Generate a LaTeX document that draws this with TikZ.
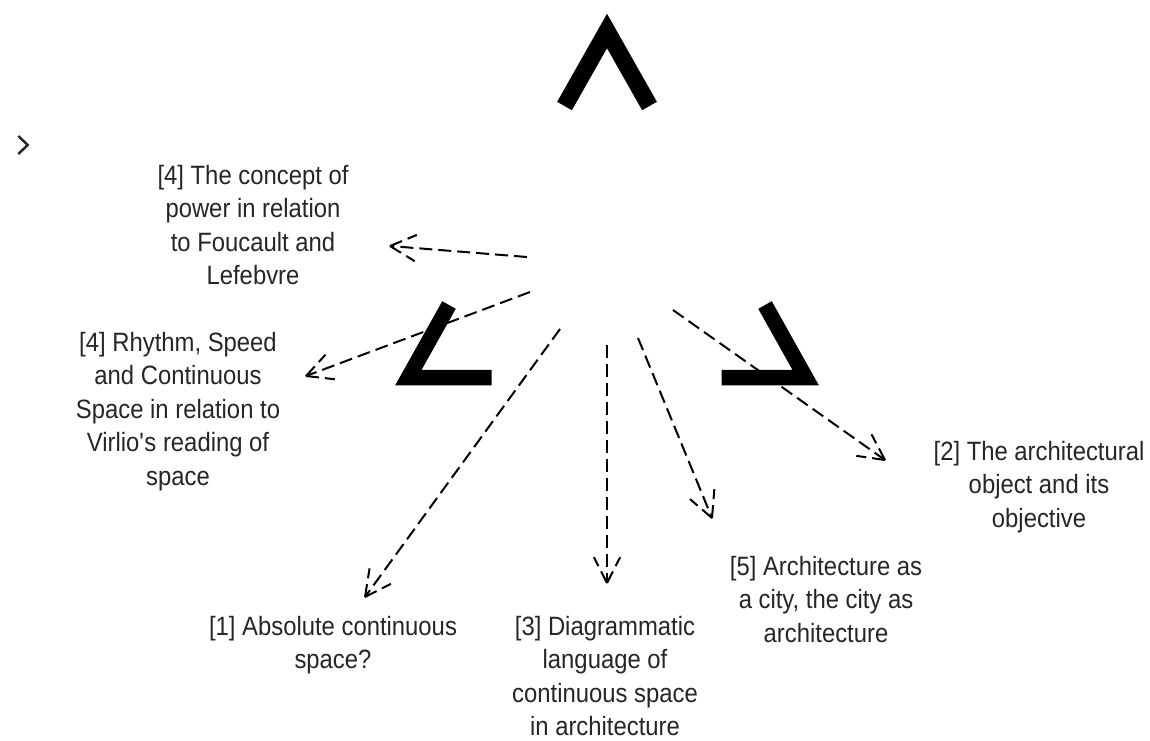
\documentclass[tikz,border=0pt]{standalone}
\usepackage{fontspec}
\setmainfont{Liberation Sans}[FakeStretch=0.9]
\usetikzlibrary{calc}
\definecolor{labelgray}{HTML}{262626}
\tikzset{
  topic/.style={font=\fontsize{26.5}{33.5}\selectfont, text=labelgray,
    align=center, anchor=base, inner sep=0pt},
  chevron/.style={line join=miter, miter limit=10, line cap=butt},
  guide/.style={line width=2pt, dash pattern=on 13pt off 6pt},
}
% dashed connector with dashed open head: #1 = start, #2 = tip
\newcommand\guidearrow[2]{%
  \draw[guide] (#1) -- (#2);
  \draw[guide] (#2) -- ($(#2)!29pt!27:(#1)$);
  \draw[guide] (#2) -- ($(#2)!29pt!-27:(#1)$);
}
\begin{document}
\begin{tikzpicture}[x=1pt, y=-1pt]
  \useasboundingbox (0,0) rectangle (1150,740);

  % chevron marks
  \draw[chevron, line width=17pt] (564.5,106) -- (607,31) -- (649.5,106);
  \draw[chevron, line width=15.5pt] (449,305) -- (408.4,377.5) -- (491.7,377.5);
  \draw[chevron, line width=15.5pt] (765,305) -- (805.6,377.5) -- (721.7,377.5);
  \draw[chevron, line width=2.5pt, labelgray] (18.3,136) -- (27.7,145) -- (18.3,154);

  % topics (placed by the baseline of their last line)
  \node[topic] (power) at (253,284.5) {[4] The concept of\\power in relation\\to Foucault and\\Lefebvre};
  \node[topic] (rhythm) at (178,485) {[4] Rhythm, Speed\\and Continuous\\Space in relation to\\Virlio\textquotesingle s reading of\\space};
  \node[topic] (absolute) at (333,668.5) {[1] Absolute continuous\\space?};
  \node[topic] (diagram) at (605,735.5) {[3] Diagrammatic\\language of\\continuous space\\in architecture};
  \node[topic] (city) at (826,642) {[5] Architecture as\\a city, the city as\\architecture};
  \node[topic] (object) at (1039,527) {[2] The architectural\\object and its\\objective};

  % connector ends
  \coordinate (s1) at (527,257);  \coordinate (t1) at (390,246);
  \coordinate (s2) at (530,292);  \coordinate (t2) at (306,376);
  \coordinate (s3) at (560,329);  \coordinate (t3) at (365,597);
  \coordinate (s4) at (607,345);  \coordinate (t4) at (607,583);
  \coordinate (s5) at (638,338);  \coordinate (t5) at (712,518);
  \coordinate (s6) at (673,310);  \coordinate (t6) at (885,460);

  \guidearrow{s1}{t1}
  \guidearrow{s2}{t2}
  \guidearrow{s3}{t3}
  \guidearrow{s4}{t4}
  \guidearrow{s5}{t5}
  \guidearrow{s6}{t6}
\end{tikzpicture}
\end{document}
